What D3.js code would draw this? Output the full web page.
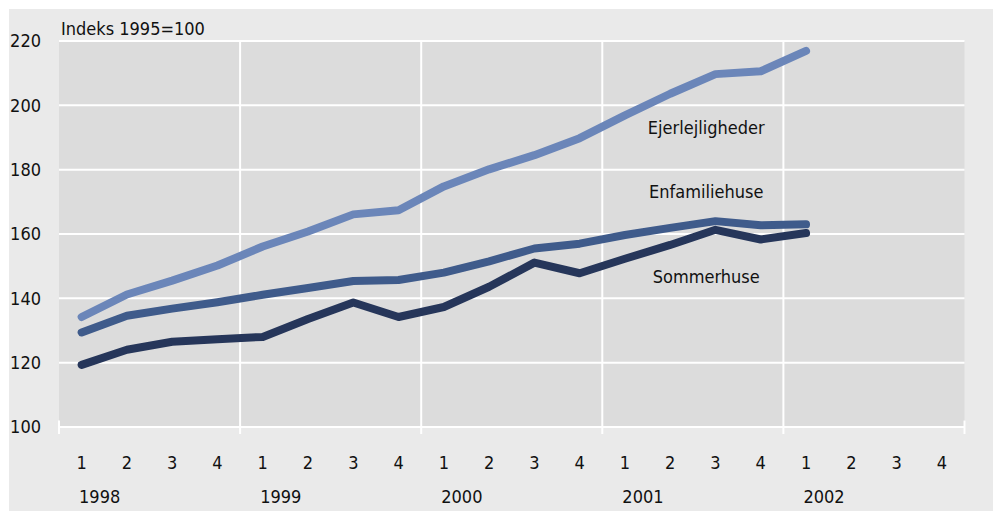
<!DOCTYPE html>
<html>
    <head>
        <meta charset="utf-8">
        <title>Indeks 1995=100</title>
        <style>
body {
    margin: 0;
    background-color: #ffffff;
    font-family: 'Liberation Sans Narrow', 'DejaVu Sans Condensed', sans-serif;
}

text {
    fill: #111111;
    font-size: 18px;
}

.series-line {
    fill: none;
    stroke-width: 8;
    stroke-linecap: round;
    stroke-linejoin: round;
}

.grid line {
    stroke: #ffffff;
    stroke-width: 2;
}
        </style>
        <script src="https://cdn.jsdelivr.net/npm/d3@7"></script>
    </head>
    <body>
        <script>
var years = ["1998", "1999", "2000", "2001", "2002"];
var quarters = ["1", "2", "3", "4"];
var yTicks = [100, 120, 140, 160, 180, 200, 220];

var ejerlejligheder = [134.2, 141.2, 145.5, 150.2, 156.1, 160.8, 166.1, 167.4, 174.8, 180.1,
    184.5, 189.8, 196.9, 203.6, 209.7, 210.6, 216.9];
var enfamiliehuse = [129.4, 134.6, 136.8, 138.8, 141.1, 143.2, 145.4, 145.7, 148.0, 151.5,
    155.5, 157.0, 159.7, 161.9, 164.0, 162.7, 163.0];
var sommerhuse = [119.3, 124.0, 126.5, 127.3, 128.0, 133.6, 138.7, 134.2, 137.3, 143.6,
    151.1, 147.8, 152.3, 156.6, 161.3, 158.3, 160.3];

var seriesNames = ["Ejerlejligheder", "Enfamiliehuse", "Sommerhuse"];
var seriesColors = ["#6b86b9", "#3f5b8b", "#26365a"];

var width = 995,
    height = 511;

var margin = {top: 41, left: 59, right: 30, bottom: 84};

var svg = d3.select('body')
    .append('svg')
    .attr('width', width)
    .attr('height', height);

// light frame behind everything
svg.append("rect")
    .attr("x", 9)
    .attr("y", 9)
    .attr("width", 984)
    .attr("height", height - 9)
    .attr("fill", "#eaeaea");

// every quarter as its own slot
var slots = [];
years.forEach(function (y) {
    quarters.forEach(function (q) {
        slots.push(y + "-" + q);
    });
});

var x = d3.scaleBand()
    .domain(slots)
    .range([margin.left, width - margin.right - 0.5]);

var y = d3.scaleLinear()
    .domain([100, 220])
    .range([height - margin.bottom, margin.top]);

svg.append("rect")
    .attr("x", x.range()[0])
    .attr("y", y(220))
    .attr("width", x.range()[1] - x.range()[0])
    .attr("height", y(100) - y(220))
    .attr("fill", "#dcdcdc");

var grid = svg.append("g").attr("class", "grid");

grid.selectAll(".hline")
    .data(yTicks)
    .enter()
    .append("line")
    .attr("x1", x.range()[0])
    .attr("x2", x.range()[1])
    .attr("y1", function (d) { return y(d); })
    .attr("y2", function (d) { return y(d); });

// year dividers, running a little past the base line
var dividers = d3.range(years.length + 1).map(function (i) {
    return x.range()[0] + i * 4 * x.step();
});

grid.selectAll(".vline")
    .data(dividers)
    .enter()
    .append("line")
    .attr("x1", function (d) { return d; })
    .attr("x2", function (d) { return d; })
    .attr("y1", function (d, i) { return (i == 0 || i == years.length) ? y(102) : y(220); })
    .attr("y2", y(100) + 7);

// y axis numbers
svg.selectAll(".ylab")
    .data(yTicks)
    .enter()
    .append("text")
    .attr("x", 41)
    .attr("y", function (d) { return y(d); })
    .attr("dy", "0.35em")
    .attr("text-anchor", "end")
    .text(function (d) { return d; });

svg.append("text")
    .attr("x", 61)
    .attr("y", 35)
    .text("Indeks 1995=100");

// quarter numbers and years underneath
svg.selectAll(".qlab")
    .data(slots)
    .enter()
    .append("text")
    .attr("x", function (d) { return x(d) + x.bandwidth() / 2; })
    .attr("y", 469)
    .attr("text-anchor", "middle")
    .text(function (d) { return d.split("-")[1]; });

svg.selectAll(".yearlab")
    .data(years)
    .enter()
    .append("text")
    .attr("x", function (d) { return x(d + "-1") + x.bandwidth() / 2 + 18; })
    .attr("y", 503)
    .attr("text-anchor", "middle")
    .text(function (d) { return d; });

var line = d3.line()
    .x(function (d, i) { return x(slots[i]) + x.bandwidth() / 2; })
    .y(function (d) { return y(d); });

var allSeries = [ejerlejligheder, enfamiliehuse, sommerhuse];

// draw the darker lines last so they sit on top
for (var i = allSeries.length - 1; i >= 0; i -= 1) {
    svg.append("path")
        .datum(allSeries[i])
        .attr("class", "series-line")
        .attr("stroke", seriesColors[i])
        .attr("d", line);
}

// series names next to the lines
var labelAt = [[slots[13], 193.2], [slots[13], 173.3], [slots[13], 146.7]];
svg.selectAll(".slab")
    .data(seriesNames)
    .enter()
    .append("text")
    .attr("x", function (d, i) { return x(labelAt[i][0]) + x.bandwidth() / 2 + 36; })
    .attr("y", function (d, i) { return y(labelAt[i][1]); })
    .attr("dy", "0.35em")
    .attr("text-anchor", "middle")
    .text(function (d) { return d; });
        </script>
    </body>
</html>
